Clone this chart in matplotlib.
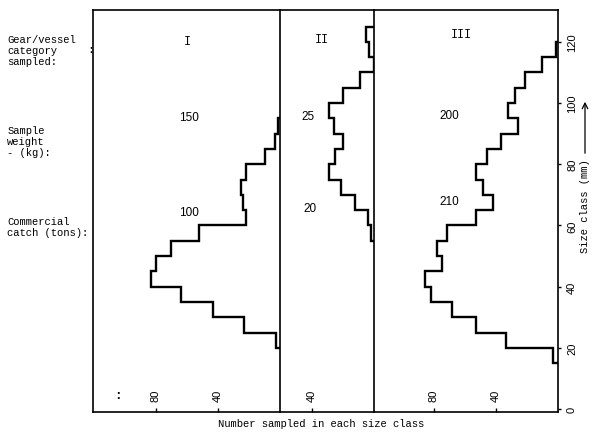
import matplotlib
matplotlib.use('Agg')
import numpy as np
import matplotlib.pyplot as plt
import matplotlib.transforms as mtransforms

plt.rcParams['font.family'] = ['Liberation Mono', 'DejaVu Sans']

# size class edges (mm) and numbers sampled per class, one set per gear/vessel category
edges_1 = np.arange(20, 100, 5)
counts_1 = [2.5, 23, 43, 64, 83, 80, 70, 52, 22, 24, 25, 22, 10, 3, 1.5]
edges_2 = np.arange(55, 130, 5)
counts_2 = [2, 4, 12.5, 21, 29, 25, 20, 26, 29, 20, 9, 0, 3.5, 5]
edges_3 = np.arange(15, 125, 5)
counts_3 = [3, 33.5, 53, 68, 81.5, 85.4, 74.6, 78, 71.8, 52.5, 41.7, 48.6,
            52.5, 45.6, 37, 26, 32.5, 28, 21, 10, 1]

categories = ['I', 'II', 'III']
sample_weight = ['150', '25', '200']
commercial_catch = ['100', '20', '210']
x_ticks = [[40, 80], [40], [40, 80]]
x_max = [120.5, 60.5, 118.5]
size_ticks = [0, 20, 40, 60, 80, 100, 120]

fig = plt.figure(figsize=(6.0, 4.39), dpi=100)
gs = fig.add_gridspec(1, 3, width_ratios=x_max, wspace=0,
                      left=0.155, right=0.93, bottom=0.059, top=0.975)
axes = [fig.add_subplot(gs[0, i]) for i in range(3)]

data = [(edges_1, counts_1), (edges_2, counts_2), (edges_3, counts_3)]
# label positions (count, size) inside each panel
lab_pos = [(60, 120.3, 58.7, 95.4, 58.7, 64.4),
           (33.5, 121, 42.6, 95.8, 41.3, 65.7),
           (62, 122.5, 69.7, 96, 70.3, 68)]

for i, ax in enumerate(axes):
    edges, counts = data[i]
    ax.set_facecolor('none')
    ax.stairs(counts, edges, orientation='horizontal', baseline=0,
              color='black', lw=1.7)
    ax.set_xlim(x_max[i], 0)
    ax.set_ylim(-1, 130.4)
    for s in ax.spines.values():
        s.set_linewidth(1.2)
    if i > 0:
        ax.spines['left'].set_visible(False)
    ax.set_xticks(x_ticks[i])
    ax.set_xticklabels([])
    ax.tick_params(axis='x', direction='in', length=3, width=1)
    trans = mtransforms.blended_transform_factory(ax.transData, ax.transAxes)
    for t in x_ticks[i]:
        ax.text(t, 0.028, str(t), transform=trans, rotation=90, ha='center',
                va='bottom', fontsize=8, family='Liberation Sans')
    cx, cy, wx, wy, kx, ky = lab_pos[i]
    ax.text(cx, cy, categories[i], ha='center', va='center', fontsize=8.5)
    ax.text(wx, wy, sample_weight[i], ha='center', va='center', fontsize=8.5,
            family='Liberation Sans')
    ax.text(kx, ky, commercial_catch[i], ha='center', va='center', fontsize=8.5,
            family='Liberation Sans')
    if i < 2:
        ax.set_yticks([])

# stray colon near the left of the first panel's count axis
axes[0].text(104.5, 0.028, ':', transform=mtransforms.blended_transform_factory(
    axes[0].transData, axes[0].transAxes), ha='center', va='bottom',
    fontsize=9, fontweight='bold')

ax3 = axes[2]
ax3.yaxis.tick_right()
ax3.set_yticks(size_ticks)
ax3.tick_params(axis='y', direction='out', length=2.5, width=1, pad=4,
                labelrotation=90, labelsize=8)
for lbl in ax3.get_yticklabels():
    lbl.set_family('Liberation Sans')
    lbl.set_va('center')

fig.text(0.975, 0.53, 'Size class (mm)', rotation=90, ha='center', va='center',
         fontsize=7.6)
fig.add_artist(matplotlib.patches.FancyArrowPatch(
    (0.975, 1 - 157 / 439), (0.975, 1 - 100 / 439), transform=fig.transFigure,
    arrowstyle='->', mutation_scale=10, lw=0.9, color='black'))

fig.text(0.012, 0.921, 'Gear/vessel\ncategory\nsampled:', ha='left', va='top',
         fontsize=7.6, linespacing=1.15)
fig.text(0.012, 0.713, 'Sample\nweight\n- (kg):', ha='left', va='top',
         fontsize=7.6, linespacing=1.15)
fig.text(0.012, 0.506, 'Commercial\ncatch (tons):', ha='left', va='top',
         fontsize=7.6, linespacing=1.15)
fig.text(0.151, 0.886, ':', ha='center', va='center', fontsize=8)

fig.text(0.535, 0.034, 'Number sampled in each size class', ha='center',
         va='center', fontsize=7.6)

fig.savefig('out.png', dpi=100, facecolor='white')
